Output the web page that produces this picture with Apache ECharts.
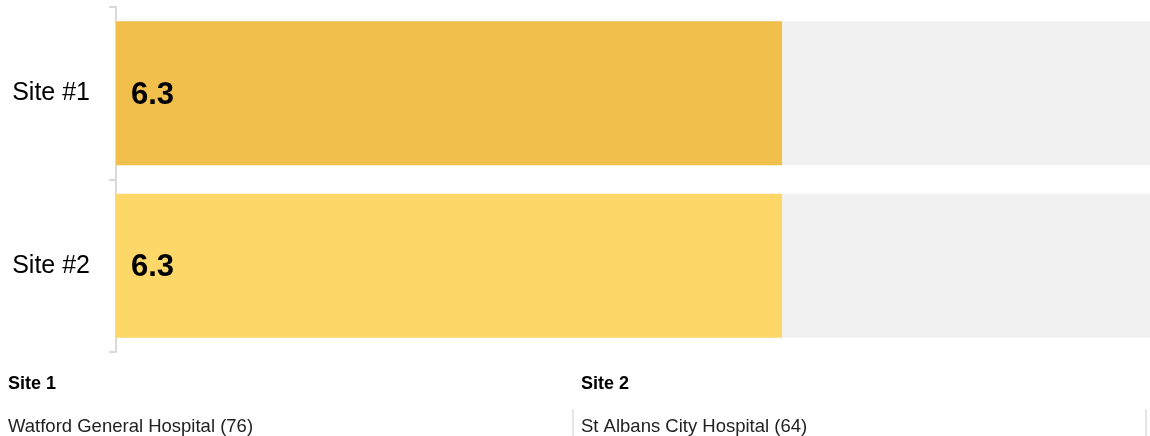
<!DOCTYPE html>
<html>
<head>
<meta charset="utf-8">
<script src="https://cdn.jsdelivr.net/npm/echarts@6/dist/echarts.min.js"></script>
<style>
  html, body { margin: 0; padding: 0; background: #fff; }
  #chart { width: 1150px; height: 436px; }
</style>
</head>
<body>
<div id="chart"></div>
<script>
// data
var sites = ['Site #1', 'Site #2'];
var scores = [6.3, 6.3];
var barColors = ['#F0BF4C', '#FDD868'];
var siteTitles = ['Site 1', 'Site 2'];
var siteNames = ['Watford General Hospital (76)', 'St Albans City Hospital (64)'];

var font = 'Liberation Sans, Arial, sans-serif';

var myChart = echarts.init(document.getElementById('chart'));

var barData = scores.map(function (v, i) {
    return { value: v, itemStyle: { color: barColors[i] } };
});

var option = {
    animation: false,
    grid: { left: 116, right: 0, top: 7, bottom: 84 },
    xAxis: {
        type: 'value',
        min: 0,
        max: 9.78,
        show: false
    },
    yAxis: {
        type: 'category',
        data: sites,
        inverse: true,
        axisLine: { show: true, lineStyle: { color: '#d9d9d9', width: 2 } },
        axisTick: { show: true, length: 7, lineStyle: { color: '#d9d9d9', width: 2 } },
        axisLabel: { fontSize: 25, color: '#000', fontFamily: font, margin: 26, padding: [8, 0, 0, 0] }
    },
    series: [
        {
            type: 'bar',
            data: barData,
            barWidth: 144,
            showBackground: true,
            backgroundStyle: { color: '#f1f1f1' },
            label: {
                show: true,
                position: 'insideLeft',
                distance: 15,
                offset: [0, 2],
                fontSize: 31,
                fontWeight: 'bold',
                color: '#000',
                fontFamily: font
            }
        }
    ],
    graphic: [
        { type: 'text', left: 8, top: 375, style: { text: siteTitles[0], font: 'bold 18px ' + font, fill: '#000' } },
        { type: 'text', left: 581, top: 375, style: { text: siteTitles[1], font: 'bold 18px ' + font, fill: '#000' } },
        { type: 'text', left: 8, top: 417, style: { text: siteNames[0], font: '18.5px ' + font, fill: '#222' } },
        { type: 'text', left: 581, top: 417, style: { text: siteNames[1], font: '18.5px ' + font, fill: '#222' } },
        { type: 'line', shape: { x1: 573, y1: 409, x2: 573, y2: 436 }, style: { stroke: '#cccccc', lineWidth: 1 } },
        { type: 'line', shape: { x1: 1146, y1: 409, x2: 1146, y2: 436 }, style: { stroke: '#cccccc', lineWidth: 1 } }
    ]
};

myChart.setOption(option);
</script>
</body>
</html>
